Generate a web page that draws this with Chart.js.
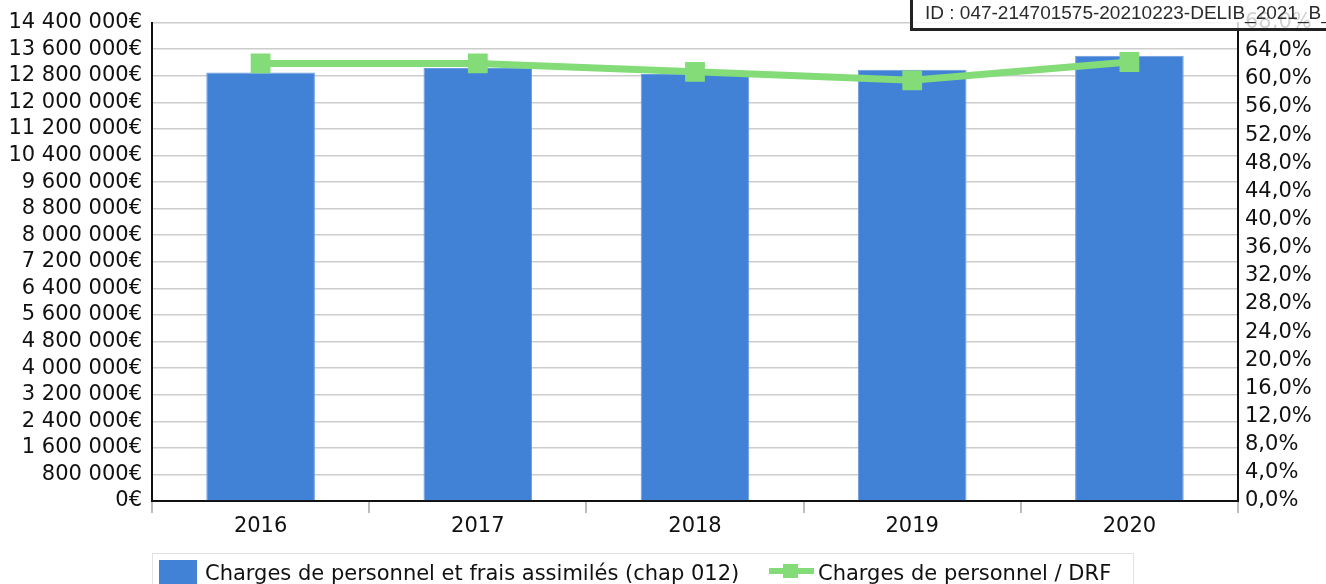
<!DOCTYPE html>
<html lang="fr">
<head>
<meta charset="utf-8">
<title>Charges de personnel</title>
<script src="https://cdn.jsdelivr.net/npm/chart.js@4/dist/chart.umd.min.js"></script>
<style>
  html, body { margin: 0; padding: 0; background: #fff; }
  #wrap { position: relative; width: 1326px; height: 584px; overflow: hidden; }
  #chart { position: absolute; left: 0; top: 0; }
  #legend {
    position: absolute; left: 152px; top: 553px; width: 982px; height: 40px;
    border: 1px solid #e2e2e2; box-sizing: border-box;
    font-family: "DejaVu Sans", sans-serif; font-size: 21px; color: #111;
  }
  .item { position: absolute; top: 5px; white-space: nowrap; line-height: 28px; }
  .swatch-bar { position: absolute; left: 6px; top: 6px; width: 38px; height: 30px; background: #4181d6; }
  .swatch-line { position: absolute; left: 616px; top: 7px; width: 45px; height: 20px; }
  .swatch-line::before { content: ""; position: absolute; left: 0; right: 0; top: 7px; height: 6px; background: #84dc79; }
  .swatch-line::after { content: ""; position: absolute; left: 14px; top: 3px; width: 15px; height: 14px; background: #84dc79; }
  #stamp {
    position: absolute; left: 910px; top: -4px; width: 440px; height: 35px;
    border: 3px solid #222; box-sizing: border-box; background: rgba(255,255,255,0.8);
    font-family: "Liberation Sans", Arial, sans-serif; font-size: 19px; line-height: 19px; color: #2a2a2a;
    white-space: nowrap; padding: 4px 0 0 12px;
  }
</style>
</head>
<body>
<div id="wrap">
  <canvas id="chart" width="1326" height="584"></canvas>
  <div id="legend">
    <span class="swatch-bar"></span>
    <span class="item" style="left:52px">Charges de personnel et frais assimilés (chap 012)</span>
    <span class="swatch-line"></span>
    <span class="item" style="left:665px">Charges de personnel / DRF</span>
  </div>
  <div id="stamp">ID : 047-214701575-20210223-DELIB_2021_B_05</div>
</div>
<script>
// Years shown on the horizontal axis
const years = ['2016', '2017', '2018', '2019', '2020'];
// Chapter 012 staff costs, in euros
const chargesPersonnel = [12900000, 13030000, 12850000, 12980000, 13400000];
// Staff costs as a share of real operating expenses, in percent
const ratioDRF = [62.2, 62.2, 61.0, 59.8, 62.4];
// Axis ranges and steps
const leftMax = 14400000, leftStep = 800000;
const rightMax = 68, rightStep = 4;

const fmtEuro = v => String(Math.round(v)).replace(/\B(?=(\d{3})+(?!\d))/g, ' ') + '€';
const fmtPct = v => v.toFixed(1).replace('.', ',') + '%';

const FONT = { family: 'DejaVu Sans', size: 21 };

new Chart(document.getElementById('chart'), {
  data: {
    labels: years,
    datasets: [
      {
        type: 'line',
        label: 'Charges de personnel / DRF',
        data: ratioDRF,
        yAxisID: 'y1',
        order: 0,
        borderColor: '#84dc79',
        backgroundColor: '#84dc79',
        borderWidth: 7,
        pointStyle: 'rect',
        pointRadius: 14,
        pointHoverRadius: 14,
        pointBorderWidth: 0,
        pointBackgroundColor: '#84dc79',
        tension: 0
      },
      {
        type: 'bar',
        label: 'Charges de personnel et frais assimilés (chap 012)',
        data: chargesPersonnel,
        yAxisID: 'y',
        order: 1,
        backgroundColor: '#4181d6',
        borderColor: '#6a9be0',
        borderWidth: 1,
        barPercentage: 0.5,
        categoryPercentage: 1.0
      }
    ]
  },
  options: {
    responsive: false,
    animation: false,
    layout: { padding: { top: 21, bottom: 43, left: 0, right: 0 } },
    plugins: { legend: { display: false }, tooltip: { enabled: false } },
    scales: {
      x: {
        offset: true,
        grid: { offset: true, drawOnChartArea: false, drawTicks: true, tickLength: 12, color: '#bdbdbd', lineWidth: 2 },
        border: { display: true, color: '#111', width: 2 },
        ticks: { font: FONT, color: '#111', padding: 1 },
        afterFit: s => { s.height = 40; }
      },
      y: {
        position: 'left',
        min: 0, max: leftMax,
        grid: { color: '#cdcdcd', lineWidth: 1.5, drawTicks: false },
        border: { display: true, color: '#111', width: 2 },
        ticks: { stepSize: leftStep, autoSkip: false, font: FONT, color: '#111', padding: 10, callback: v => fmtEuro(v) },
        afterFit: s => { s.width = 152; }
      },
      y1: {
        position: 'right',
        min: 0, max: rightMax,
        grid: { display: false, drawTicks: false },
        border: { display: true, color: '#111', width: 2 },
        ticks: { stepSize: rightStep, autoSkip: false, font: FONT, color: '#111', padding: 7, callback: v => fmtPct(v) },
        afterFit: s => { s.width = 88; }
      }
    }
  }
});
</script>
</body>
</html>
